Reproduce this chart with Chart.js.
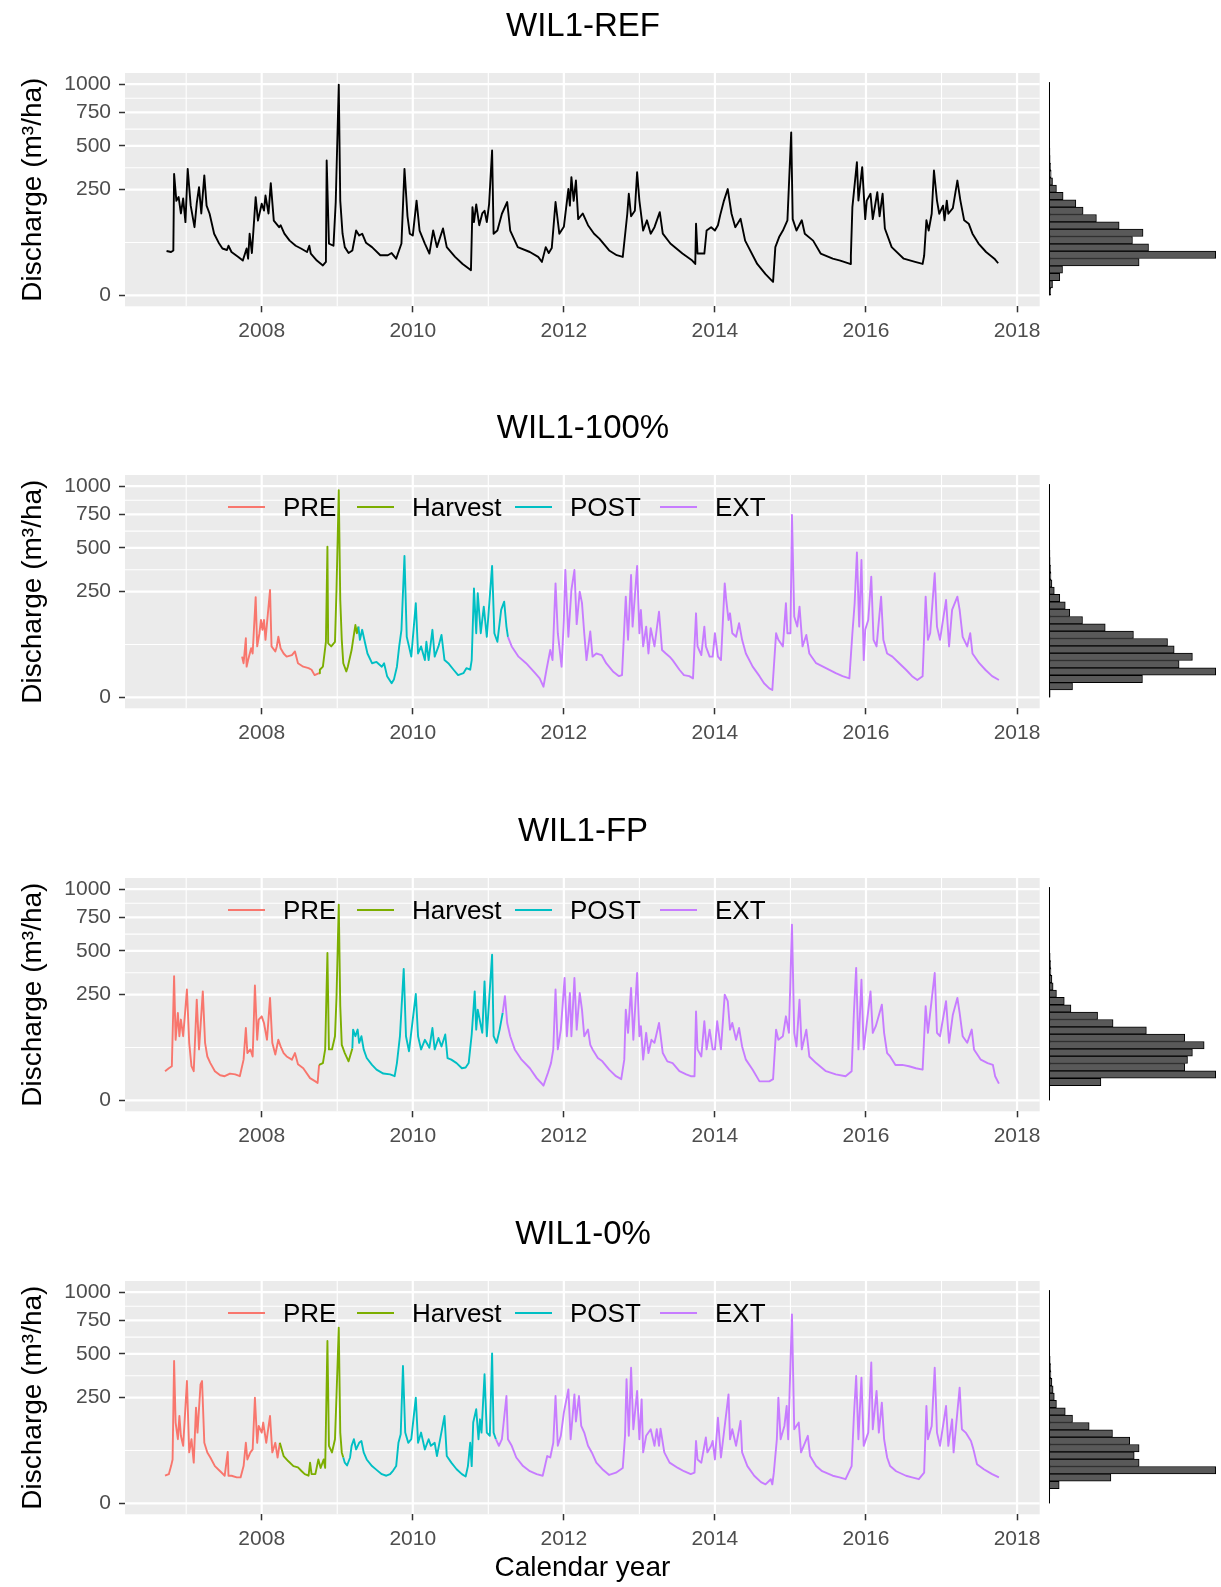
<!DOCTYPE html>
<html>
<head>
<meta charset="utf-8">
<script src="https://cdn.jsdelivr.net/npm/chart.js@4.4.1/dist/chart.umd.min.js"></script>
<style>
  body { margin: 0; background: #fff; font-family: "Liberation Sans", Arial, sans-serif; }
  #page { position: relative; width: 1221px; height: 1587px; overflow: hidden; }
  .panel { position: absolute; left: 0; width: 1221px; }
  .panel canvas { position: absolute; left: 0; top: 0; }
  .ttl { position: absolute; left: 125px; width: 916px; top: 6px; text-align: center;
         font-size: 33px; line-height: 38px; color: #000; }
  .lab { position: absolute; top: 90px; font-size: 26px; line-height: 30px; color: #000; white-space: nowrap; }
  .key { position: absolute; top: 104px; width: 37px; height: 2px; }
</style>
</head>
<body>
<div id="page">
  <div class="panel" style="top:0;height:402px"><canvas id="c0" width="1221" height="402"></canvas><div class="ttl">WIL1-REF</div></div>
  <div class="panel" style="top:402px;height:403px"><canvas id="c1" width="1221" height="403"></canvas><div class="ttl">WIL1-100%</div></div>
  <div class="panel" style="top:805px;height:403px"><canvas id="c2" width="1221" height="403"></canvas><div class="ttl">WIL1-FP</div></div>
  <div class="panel" style="top:1208px;height:379px"><canvas id="c3" width="1221" height="379"></canvas><div class="ttl">WIL1-0%</div></div>
</div>
<script>
// axis breaks (y is drawn on a square-root scale)
var yBreaks = [0, 250, 500, 750, 1000];
var xBreaks = [2008, 2010, 2012, 2014, 2016, 2018];
var periodNames = ['PRE', 'Harvest', 'POST', 'EXT'];
var periodColors = ['#F8766D', '#7CAE00', '#00BFC4', '#C77CFF'];
var binWidth = 1.1; // histogram bin width on the sqrt axis

// WIL1-REF
var refYear = [
  2006.74, 2006.80, 2006.83, 2006.84, 2006.87, 2006.90, 2006.93, 2006.96, 2006.99, 2007.02,
  2007.06, 2007.11, 2007.14, 2007.17, 2007.20, 2007.24, 2007.27, 2007.31, 2007.37, 2007.43,
  2007.48, 2007.54, 2007.56, 2007.60, 2007.69, 2007.75, 2007.80, 2007.82, 2007.84, 2007.87,
  2007.92, 2007.95, 2008.00, 2008.03, 2008.05, 2008.09, 2008.12, 2008.16, 2008.23, 2008.25,
  2008.30, 2008.37, 2008.45, 2008.52, 2008.60, 2008.63, 2008.65, 2008.73, 2008.81, 2008.85,
  2008.86, 2008.89, 2008.95, 2008.98, 2009.02, 2009.04, 2009.07, 2009.10, 2009.15, 2009.20,
  2009.25, 2009.29, 2009.33, 2009.38, 2009.46, 2009.57, 2009.67, 2009.72, 2009.78, 2009.85,
  2009.89, 2009.93, 2009.96, 2010.00, 2010.05, 2010.09, 2010.16, 2010.22, 2010.27, 2010.32,
  2010.40, 2010.45, 2010.56, 2010.66, 2010.74, 2010.77, 2010.79, 2010.81, 2010.84, 2010.88,
  2010.92, 2010.95, 2010.98, 2011.01, 2011.05, 2011.07, 2011.12, 2011.18, 2011.25, 2011.29,
  2011.39, 2011.55, 2011.66, 2011.71, 2011.76, 2011.80, 2011.84, 2011.89, 2011.94, 2012.00,
  2012.06, 2012.08, 2012.10, 2012.13, 2012.16, 2012.19, 2012.25, 2012.32, 2012.40, 2012.47,
  2012.60, 2012.70, 2012.78, 2012.84, 2012.86, 2012.89, 2012.94, 2012.97, 2013.00, 2013.05,
  2013.10, 2013.15, 2013.20, 2013.27, 2013.31, 2013.41, 2013.57, 2013.70, 2013.74, 2013.75,
  2013.77, 2013.86, 2013.89, 2013.95, 2014.00, 2014.04, 2014.07, 2014.12, 2014.17, 2014.22,
  2014.27, 2014.34, 2014.40, 2014.56, 2014.67, 2014.75, 2014.77, 2014.80, 2014.85, 2014.90,
  2014.96, 2015.01, 2015.03, 2015.08, 2015.15, 2015.19, 2015.30, 2015.40, 2015.56, 2015.66,
  2015.79, 2015.80, 2015.82, 2015.88, 2015.90, 2015.95, 2015.99, 2016.01, 2016.06, 2016.09,
  2016.15, 2016.18, 2016.22, 2016.25, 2016.34, 2016.50, 2016.65, 2016.75, 2016.77, 2016.80,
  2016.83, 2016.87, 2016.90, 2016.94, 2016.97, 2017.02, 2017.04, 2017.07, 2017.09, 2017.15,
  2017.21, 2017.25, 2017.30, 2017.36, 2017.41, 2017.49, 2017.59, 2017.70, 2017.75
];
var refQ = [
  44, 42, 45, 330, 200, 216, 150, 210, 120, 358,
  180, 104, 190, 262, 150, 322, 180, 149, 85, 62,
  49, 46, 55, 42, 33, 27, 49, 30, 85, 40,
  216, 125, 188, 161, 223, 150, 282, 125, 104, 110,
  85, 67, 55, 49, 42, 55, 39, 27, 20, 25,
  407, 60, 55, 195, 993, 200, 85, 52, 40, 45,
  94, 80, 85, 62, 52, 36, 36, 40, 30, 60,
  358, 140, 85, 80, 201, 94, 60, 39, 94, 52,
  100, 52, 33, 22, 16, 14, 174, 120, 185, 110,
  150, 160, 120, 185, 470, 85, 94, 149, 195, 94,
  52, 42, 33, 25, 52, 40, 50, 195, 85, 105,
  253, 180, 313, 200, 295, 130, 150, 110, 85, 72,
  45, 36, 33, 149, 231, 140, 160, 339, 201, 94,
  126, 85, 104, 155, 85, 60, 39, 27, 22, 115,
  39, 39, 94, 104, 94, 110, 144, 201, 253, 149,
  104, 131, 67, 22, 10, 5, 4, 52, 76, 94,
  126, 595, 130, 94, 126, 85, 67, 39, 30, 27,
  22, 35, 174, 397, 201, 368, 130, 201, 231, 130,
  238, 140, 231, 100, 52, 30, 25, 22, 35, 126,
  94, 149, 349, 201, 149, 180, 126, 201, 149, 170,
  295, 201, 126, 115, 85, 60, 42, 30, 23
];
var refHist = [8, 17, 54, 68, 459, 850, 507, 425, 479, 357, 241, 173, 136, 71, 37,
               17, 10, 7, 5, 4, 3, 2, 2, 2, 1, 1, 1, 1, 1];

// WIL1-100%
var p100Year = [
  2007.74, 2007.76, 2007.79, 2007.80, 2007.82, 2007.86, 2007.88, 2007.92, 2007.94, 2007.97,
  2007.99, 2008.01, 2008.03, 2008.05, 2008.11, 2008.13, 2008.18, 2008.20, 2008.22, 2008.25,
  2008.29, 2008.33, 2008.40, 2008.44, 2008.48, 2008.55, 2008.62, 2008.66, 2008.70, 2008.76,
  2008.77, 2008.81, 2008.85, 2008.87, 2008.88, 2008.92, 2008.97, 2008.99, 2009.02, 2009.04,
  2009.06, 2009.08, 2009.12, 2009.14, 2009.19, 2009.21, 2009.24, 2009.26, 2009.28, 2009.30,
  2009.33, 2009.37, 2009.40, 2009.46, 2009.52, 2009.59, 2009.62, 2009.66, 2009.72, 2009.75,
  2009.79, 2009.82, 2009.85, 2009.89, 2009.92, 2009.95, 2009.98, 2010.04, 2010.07, 2010.11,
  2010.16, 2010.18, 2010.21, 2010.26, 2010.29, 2010.34, 2010.38, 2010.42, 2010.47, 2010.54,
  2010.60, 2010.67, 2010.71, 2010.76, 2010.78, 2010.81, 2010.84, 2010.86, 2010.90, 2010.94,
  2010.98, 2011.05, 2011.08, 2011.12, 2011.17, 2011.21, 2011.24, 2011.26, 2011.31, 2011.40,
  2011.50, 2011.62, 2011.68, 2011.73, 2011.77, 2011.82, 2011.85, 2011.89, 2011.92, 2011.97,
  2012.00, 2012.02, 2012.06, 2012.10, 2012.14, 2012.17, 2012.21, 2012.24, 2012.27, 2012.30,
  2012.35, 2012.38, 2012.43, 2012.50, 2012.56, 2012.65, 2012.73, 2012.77, 2012.82, 2012.85,
  2012.89, 2012.91, 2012.97, 2013.00, 2013.02, 2013.05, 2013.09, 2013.12, 2013.15, 2013.20,
  2013.26, 2013.30, 2013.35, 2013.40, 2013.44, 2013.53, 2013.59, 2013.66, 2013.71, 2013.75,
  2013.77, 2013.82, 2013.86, 2013.88, 2013.93, 2013.97, 2014.00, 2014.04, 2014.08, 2014.13,
  2014.15, 2014.18, 2014.20, 2014.23, 2014.28, 2014.32, 2014.36, 2014.41, 2014.50, 2014.59,
  2014.65, 2014.72, 2014.76, 2014.81, 2014.84, 2014.90, 2014.94, 2014.96, 2015.00, 2015.02,
  2015.05, 2015.09, 2015.12, 2015.16, 2015.21, 2015.25, 2015.34, 2015.47, 2015.60, 2015.69,
  2015.78, 2015.82, 2015.85, 2015.88, 2015.91, 2015.94, 2015.97, 2015.99, 2016.03, 2016.07,
  2016.10, 2016.14, 2016.20, 2016.23, 2016.28, 2016.35, 2016.44, 2016.53, 2016.61, 2016.68,
  2016.75, 2016.79, 2016.82, 2016.85, 2016.91, 2016.94, 2016.98, 2017.02, 2017.06, 2017.10,
  2017.14, 2017.21, 2017.24, 2017.28, 2017.34, 2017.38, 2017.41, 2017.50, 2017.58, 2017.67,
  2017.76
];
var p100Q = [
  37, 26, 78, 21, 31, 54, 43, 225, 58, 92,
  134, 102, 134, 74, 258, 58, 47, 58, 82, 54,
  43, 37, 40, 47, 26, 21, 19, 17, 11, 13,
  17, 21, 69, 509, 65, 58, 69, 258, 962, 212,
  74, 26, 15, 21, 50, 74, 117, 92, 112, 74,
  102, 65, 43, 26, 28, 21, 26, 10, 4.4, 7,
  21, 58, 102, 448, 82, 58, 37, 198, 43, 58,
  31, 69, 31, 102, 37, 58, 87, 31, 26, 17,
  11, 13, 19, 17, 31, 266, 92, 243, 92, 184,
  82, 387, 92, 69, 171, 205, 112, 82, 58, 37,
  26, 13, 8, 2.5, 17, 50, 31, 291, 92, 21,
  134, 363, 82, 258, 363, 120, 250, 200, 92, 31,
  97, 37, 43, 40, 26, 15, 10, 11, 227, 74,
  335, 112, 387, 92, 171, 58, 112, 43, 107, 58,
  164, 50, 43, 37, 31, 17, 11, 10, 8, 158,
  58, 40, 112, 58, 37, 37, 92, 37, 31, 291,
  212, 134, 158, 92, 82, 123, 74, 43, 21, 10,
  4.4, 1.8, 1.2, 92, 74, 58, 198, 92, 92, 745,
  146, 112, 184, 58, 87, 43, 26, 19, 13, 10,
  8, 92, 198, 470, 112, 423, 31, 102, 134, 326,
  74, 58, 227, 74, 43, 37, 26, 17, 10, 6.7,
  10, 227, 74, 92, 345, 112, 74, 134, 212, 58,
  171, 227, 171, 82, 58, 92, 43, 26, 17, 10,
  6.7
];
var p100Start = [2008.76, 2009.28, 2011.26]; // Harvest, POST, EXT begin
var p100Hist = [5, 119, 476, 850, 663, 731, 638, 604, 430, 286, 170, 105, 82, 54, 26,
                14, 9, 7, 5, 4, 3, 2, 2, 1, 1, 1, 1, 1, 1];

// WIL1-FP
var fpYear = [
  2006.72, 2006.77, 2006.81, 2006.84, 2006.86, 2006.89, 2006.91, 2006.93, 2006.96, 2007.01,
  2007.04, 2007.07, 2007.10, 2007.14, 2007.17, 2007.22, 2007.25, 2007.28, 2007.32, 2007.38,
  2007.45, 2007.51, 2007.58, 2007.65, 2007.71, 2007.76, 2007.79, 2007.81, 2007.85, 2007.88,
  2007.91, 2007.94, 2007.96, 2008.00, 2008.03, 2008.07, 2008.11, 2008.14, 2008.18, 2008.22,
  2008.25, 2008.29, 2008.33, 2008.40, 2008.44, 2008.48, 2008.55, 2008.64, 2008.71, 2008.74,
  2008.76, 2008.81, 2008.84, 2008.87, 2008.89, 2008.93, 2008.97, 2008.99, 2009.02, 2009.04,
  2009.06, 2009.10, 2009.15, 2009.20, 2009.21, 2009.24, 2009.27, 2009.29, 2009.32, 2009.35,
  2009.39, 2009.46, 2009.52, 2009.61, 2009.70, 2009.76, 2009.79, 2009.83, 2009.88, 2009.91,
  2009.95, 2010.04, 2010.07, 2010.11, 2010.16, 2010.22, 2010.26, 2010.29, 2010.34, 2010.38,
  2010.43, 2010.46, 2010.51, 2010.58, 2010.65, 2010.70, 2010.74, 2010.78, 2010.82, 2010.84,
  2010.86, 2010.92, 2010.95, 2010.98, 2011.05, 2011.07, 2011.11, 2011.15, 2011.19, 2011.22,
  2011.25, 2011.29, 2011.35, 2011.44, 2011.55, 2011.64, 2011.70, 2011.73, 2011.79, 2011.83,
  2011.86, 2011.89, 2011.92, 2011.96, 2012.01, 2012.04, 2012.08, 2012.10, 2012.14, 2012.17,
  2012.21, 2012.24, 2012.27, 2012.32, 2012.35, 2012.38, 2012.45, 2012.51, 2012.60, 2012.69,
  2012.76, 2012.80, 2012.82, 2012.85, 2012.89, 2012.92, 2012.97, 2013.00, 2013.02, 2013.05,
  2013.09, 2013.12, 2013.16, 2013.20, 2013.26, 2013.31, 2013.37, 2013.44, 2013.53, 2013.62,
  2013.68, 2013.73, 2013.75, 2013.77, 2013.82, 2013.86, 2013.89, 2013.93, 2013.97, 2014.00,
  2014.03, 2014.08, 2014.13, 2014.17, 2014.20, 2014.23, 2014.28, 2014.32, 2014.36, 2014.41,
  2014.50, 2014.59, 2014.65, 2014.72, 2014.77, 2014.81, 2014.84, 2014.90, 2014.94, 2014.98,
  2015.02, 2015.05, 2015.08, 2015.12, 2015.15, 2015.21, 2015.25, 2015.34, 2015.47, 2015.60,
  2015.73, 2015.81, 2015.84, 2015.87, 2015.90, 2015.94, 2015.97, 2016.06, 2016.09, 2016.13,
  2016.21, 2016.24, 2016.28, 2016.32, 2016.39, 2016.48, 2016.57, 2016.66, 2016.75, 2016.79,
  2016.82, 2016.91, 2016.94, 2016.98, 2017.06, 2017.10, 2017.15, 2017.21, 2017.24, 2017.28,
  2017.34, 2017.40, 2017.43, 2017.52, 2017.61, 2017.68, 2017.71, 2017.76
];
var fpQ = [
  19, 23, 26, 345, 82, 171, 92, 146, 92, 275,
  74, 26, 19, 227, 58, 266, 74, 43, 31, 19,
  14, 13, 16, 15, 13, 37, 117, 50, 58, 43,
  295, 82, 146, 158, 134, 82, 235, 74, 47, 82,
  65, 50, 43, 37, 50, 29, 23, 11, 8, 6.7,
  28, 31, 58, 486, 58, 58, 92, 235, 858, 198,
  69, 50, 34, 60, 112, 92, 112, 74, 92, 58,
  40, 28, 21, 16, 15, 13, 31, 92, 387, 92,
  54, 253, 92, 58, 82, 62, 117, 58, 87, 65,
  97, 40, 37, 31, 23, 24, 31, 97, 266, 112,
  184, 102, 317, 92, 475, 92, 74, 112, 171, 243,
  134, 92, 58, 37, 23, 11, 6.7, 4.8, 17, 31,
  58, 275, 58, 112, 335, 92, 258, 92, 335, 112,
  258, 184, 92, 112, 69, 58, 40, 34, 21, 13,
  10, 37, 184, 102, 283, 82, 363, 92, 123, 37,
  102, 50, 82, 74, 134, 50, 34, 31, 19, 15,
  13, 13, 177, 58, 43, 140, 58, 112, 58, 58,
  140, 58, 250, 220, 112, 134, 82, 117, 65, 37,
  21, 8, 8, 8, 10, 112, 82, 92, 158, 102,
  692, 102, 65, 227, 58, 112, 43, 31, 19, 15,
  13, 19, 171, 393, 58, 326, 58, 266, 102, 123,
  205, 102, 50, 43, 28, 28, 26, 23, 21, 198,
  102, 363, 102, 92, 220, 74, 164, 235, 171, 92,
  74, 112, 58, 37, 31, 28, 13, 6.2
];
var fpStart = [2008.76, 2009.20, 2011.19];
var fpHist = [2, 3, 264, 850, 692, 706, 731, 791, 692, 496, 326, 247, 111, 77, 37,
              20, 14, 9, 7, 5, 3, 2, 2, 2, 1, 1, 1, 1, 1];

// WIL1-0%
var p0Year = [
  2006.72, 2006.77, 2006.80, 2006.82, 2006.84, 2006.86, 2006.89, 2006.91, 2006.93, 2006.96,
  2007.01, 2007.04, 2007.07, 2007.10, 2007.13, 2007.15, 2007.19, 2007.21, 2007.24, 2007.28,
  2007.32, 2007.38, 2007.45, 2007.51, 2007.55, 2007.56, 2007.60, 2007.67, 2007.72, 2007.76,
  2007.79, 2007.81, 2007.85, 2007.88, 2007.91, 2007.94, 2007.96, 2008.00, 2008.02, 2008.06,
  2008.11, 2008.14, 2008.18, 2008.21, 2008.24, 2008.29, 2008.35, 2008.42, 2008.48, 2008.53,
  2008.57, 2008.62, 2008.64, 2008.66, 2008.71, 2008.75, 2008.78, 2008.82, 2008.84, 2008.87,
  2008.89, 2008.93, 2008.97, 2008.99, 2009.02, 2009.04, 2009.06, 2009.08, 2009.10, 2009.13,
  2009.17, 2009.19, 2009.22, 2009.25, 2009.29, 2009.32, 2009.35, 2009.39, 2009.46, 2009.52,
  2009.59, 2009.65, 2009.70, 2009.74, 2009.78, 2009.81, 2009.84, 2009.87, 2009.90, 2009.94,
  2009.98, 2010.04, 2010.07, 2010.11, 2010.16, 2010.21, 2010.24, 2010.29, 2010.32, 2010.42,
  2010.45, 2010.51, 2010.58, 2010.65, 2010.70, 2010.73, 2010.76, 2010.78, 2010.80, 2010.84,
  2010.87, 2010.89, 2010.91, 2010.95, 2010.98, 2011.02, 2011.05, 2011.07, 2011.10, 2011.14,
  2011.18, 2011.24, 2011.26, 2011.31, 2011.37, 2011.46, 2011.55, 2011.64, 2011.72, 2011.75,
  2011.78, 2011.82, 2011.86, 2011.89, 2011.92, 2011.96, 2012.00, 2012.06, 2012.09, 2012.14,
  2012.16, 2012.20, 2012.23, 2012.27, 2012.32, 2012.37, 2012.43, 2012.51, 2012.60, 2012.69,
  2012.78, 2012.81, 2012.83, 2012.86, 2012.89, 2012.92, 2012.97, 2013.00, 2013.03, 2013.05,
  2013.09, 2013.15, 2013.20, 2013.23, 2013.26, 2013.28, 2013.33, 2013.40, 2013.51, 2013.59,
  2013.68, 2013.73, 2013.75, 2013.77, 2013.82, 2013.88, 2013.90, 2013.95, 2013.97, 2014.00,
  2014.04, 2014.08, 2014.18, 2014.20, 2014.23, 2014.28, 2014.34, 2014.36, 2014.43, 2014.52,
  2014.61, 2014.67, 2014.74, 2014.76, 2014.78, 2014.82, 2014.84, 2014.87, 2014.92, 2014.95,
  2014.97, 2015.02, 2015.05, 2015.11, 2015.14, 2015.23, 2015.26, 2015.34, 2015.42, 2015.56,
  2015.65, 2015.73, 2015.77, 2015.81, 2015.84, 2015.87, 2015.90, 2015.94, 2015.97, 2016.03,
  2016.07, 2016.09, 2016.14, 2016.17, 2016.21, 2016.24, 2016.28, 2016.32, 2016.40, 2016.53,
  2016.61, 2016.70, 2016.77, 2016.80, 2016.82, 2016.87, 2016.91, 2016.94, 2016.98, 2017.06,
  2017.09, 2017.14, 2017.16, 2017.24, 2017.27, 2017.32, 2017.39, 2017.42, 2017.47, 2017.56,
  2017.67, 2017.76
];
var p0Q = [
  17, 19, 31, 43, 454, 146, 92, 171, 102, 74,
  335, 58, 92, 37, 205, 112, 317, 335, 82, 58,
  47, 31, 23, 17, 59, 17, 17, 15, 15, 31,
  82, 43, 58, 65, 250, 82, 134, 112, 146, 82,
  171, 58, 82, 47, 82, 50, 40, 31, 29, 23,
  19, 17, 37, 19, 19, 43, 28, 43, 28, 591,
  74, 58, 92, 258, 692, 112, 58, 47, 37, 32,
  47, 74, 92, 65, 82, 87, 58, 43, 31, 25,
  19, 17, 19, 24, 31, 82, 107, 423, 112, 82,
  92, 250, 82, 112, 65, 92, 74, 82, 50, 171,
  50, 37, 26, 19, 16, 31, 82, 31, 146, 198,
  92, 158, 112, 373, 112, 102, 504, 112, 92, 74,
  92, 258, 92, 74, 47, 31, 23, 19, 17, 31,
  50, 47, 82, 258, 74, 102, 184, 291, 92, 266,
  150, 258, 134, 112, 74, 58, 37, 26, 18, 21,
  28, 102, 345, 102, 412, 123, 283, 92, 242, 58,
  102, 123, 74, 123, 74, 125, 58, 37, 28, 23,
  19, 21, 87, 43, 37, 97, 58, 74, 87, 43,
  164, 47, 266, 92, 123, 74, 152, 58, 31, 17,
  10, 8, 13, 8, 21, 92, 250, 92, 134, 212,
  92, 800, 123, 146, 58, 102, 50, 31, 23, 17,
  15, 13, 21, 31, 171, 363, 92, 354, 74, 112,
  444, 123, 283, 112, 227, 92, 47, 31, 23, 17,
  15, 13, 21, 212, 92, 134, 412, 112, 74, 212,
  74, 158, 58, 300, 123, 112, 87, 67, 34, 26,
  19, 15
];
var p0Start = [2008.24, 2009.08, 2011.10];
var p0Hist = [2, 3, 51, 315, 850, 459, 434, 459, 411, 323, 204, 119, 82, 37, 26,
              20, 14, 9, 7, 5, 3, 2, 2, 2, 1, 1, 1, 1, 1];

Chart.defaults.font.family = '"Liberation Sans", Arial, sans-serif';

var panelBackdrop = {
  id: 'panelBackdrop',
  beforeDraw: function(chart) {
    var ctx = chart.ctx, a = chart.chartArea, x = chart.scales.x, y = chart.scales.y;
    ctx.save();
    ctx.fillStyle = '#EBEBEB';
    ctx.fillRect(x.left, a.top, x.right - x.left, a.bottom - a.top);
    ctx.strokeStyle = '#FFFFFF';
    function hl(py) { ctx.beginPath(); ctx.moveTo(x.left, py); ctx.lineTo(x.right, py); ctx.stroke(); }
    function vl(px) { ctx.beginPath(); ctx.moveTo(px, a.top); ctx.lineTo(px, a.bottom); ctx.stroke(); }
    var ys = yBreaks.map(Math.sqrt);
    ctx.lineWidth = 1.1;
    for (var i = 1; i < ys.length; i++) hl(y.getPixelForValue((ys[i - 1] + ys[i]) / 2));
    var step = xBreaks[1] - xBreaks[0];
    for (var j = 0; j < xBreaks.length; j++) {
      var m = xBreaks[j] - step / 2;
      if (m > x.min && m < x.max) vl(x.getPixelForValue(m));
    }
    ctx.lineWidth = 2.2;
    ys.forEach(function(v) { hl(y.getPixelForValue(v)); });
    xBreaks.forEach(function(v) { if (v <= x.max) vl(x.getPixelForValue(v)); });
    ctx.restore();
  },
  afterDatasetsDraw: function(chart) {
    var ctx = chart.ctx, h = chart.scales.h, y = chart.scales.y;
    var n = chart.data.datasets[1].data.length;
    var px = Math.round(h.getPixelForValue(0)) + 0.5;
    ctx.save();
    ctx.strokeStyle = '#000';
    ctx.lineWidth = 1;
    ctx.beginPath();
    ctx.moveTo(px, y.getPixelForValue(0));
    ctx.lineTo(px, y.getPixelForValue(n * binWidth));
    ctx.stroke();
    ctx.restore();
  }
};

function periodIndex(t, starts) {
  var k = 0;
  starts.forEach(function(s) { if (t >= s) k++; });
  return k;
}

function drawPanel(p) {
  var canvas = document.getElementById(p.id);
  var H = canvas.height;
  var histMax = Math.max.apply(null, p.hist);
  var tickFont = {size: 21};
  var line = {
    type: 'line',
    xAxisID: 'x', yAxisID: 'y',
    data: p.yr.map(function(t, i) { return {x: t, y: Math.sqrt(p.q[i])}; }),
    borderColor: '#000', borderWidth: 1.9, pointRadius: 0, tension: 0,
    borderJoinStyle: 'round'
  };
  if (p.starts) {
    line.borderColor = periodColors[0];
    line.segment = { borderColor: function(c) { return periodColors[periodIndex(c.p0.parsed.x, p.starts)]; } };
  }
  var hist = {
    type: 'bar', indexAxis: 'y', xAxisID: 'h', yAxisID: 'y',
    data: p.hist.map(function(n, k) { return {x: n, y: (k + 0.5) * binWidth}; }),
    backgroundColor: '#595959', borderColor: '#000000', borderWidth: 1, borderSkipped: false,
    barPercentage: 1, categoryPercentage: 1, grouped: false
  };
  var chart = new Chart(canvas, {
    type: 'line',
    data: { datasets: [line, hist] },
    plugins: [panelBackdrop],
    options: {
      responsive: false, animation: false, events: [],
      layout: { padding: {top: 73, left: 0, right: 0, bottom: 0} },
      plugins: { legend: {display: false}, tooltip: {enabled: false} },
      scales: {
        x: {
          type: 'linear', position: 'bottom', min: 2006.19, max: 2018.30, offset: false,
          stack: 'bottom', stackWeight: 915.5,
          afterBuildTicks: function(s) { s.ticks = xBreaks.map(function(v) { return {value: v}; }); },
          afterFit: function(s) { s.height = H - 306.3; s.paddingLeft = 0; s.paddingRight = 0; },
          ticks: { autoSkip: false, maxRotation: 0, padding: 6, color: '#4D4D4D', font: tickFont,
                   callback: function(v) { return String(v); } },
          grid: { drawOnChartArea: false, drawTicks: true, tickLength: 6, tickColor: '#333333', tickWidth: 1.5 },
          border: { display: false },
          title: { display: !!p.xTitle, text: 'Calendar year', color: '#000', font: {size: 28},
                   padding: {top: 0, bottom: 2} }
        },
        h: {
          type: 'linear', axis: 'x', position: 'bottom', offset: false,
          stack: 'bottom', stackWeight: 180.5,
          min: -0.057 * histMax, max: 1.026 * histMax,
          ticks: { display: false }, grid: { display: false }, border: { display: false }
        },
        y: {
          type: 'linear', position: 'left', min: -1.65, max: 33.28, offset: false,
          afterBuildTicks: function(s) { s.ticks = yBreaks.map(function(v) { return {value: Math.sqrt(v)}; }); },
          afterFit: function(s) { s.width = 125; s.paddingTop = 0; s.paddingBottom = 0; },
          ticks: { autoSkip: false, padding: 8, color: '#4D4D4D', font: tickFont,
                   callback: function(v) { return String(Math.round(v * v)); } },
          grid: { drawOnChartArea: false, drawTicks: true, tickLength: 6, tickColor: '#333333', tickWidth: 1.5, offset: false },
          border: { display: false },
          title: { display: true, text: 'Discharge (m³/ha)', color: '#000', font: {size: 28},
                   padding: {top: 16, bottom: 0} }
        }
      }
    }
  });
  // make the histogram bars exactly one bin tall on the sqrt axis
  var ys = chart.scales.y;
  chart.data.datasets[1].barThickness = Math.abs(ys.getPixelForValue(binWidth) - ys.getPixelForValue(0));
  chart.update();

  if (p.starts) {
    var box = canvas.parentNode;
    var keyX = [228, 357, 515, 660], labX = [283, 412, 570, 715];
    periodNames.forEach(function(name, i) {
      var k = document.createElement('div');
      k.className = 'key';
      k.style.left = keyX[i] + 'px';
      k.style.background = periodColors[i];
      box.appendChild(k);
      var l = document.createElement('div');
      l.className = 'lab';
      l.style.left = labX[i] + 'px';
      l.textContent = name;
      box.appendChild(l);
    });
  }
}

[
  {id: 'c0', yr: refYear, q: refQ, hist: refHist, starts: null},
  {id: 'c1', yr: p100Year, q: p100Q, hist: p100Hist, starts: p100Start},
  {id: 'c2', yr: fpYear, q: fpQ, hist: fpHist, starts: fpStart},
  {id: 'c3', yr: p0Year, q: p0Q, hist: p0Hist, starts: p0Start, xTitle: true}
].forEach(drawPanel);
</script>
</body>
</html>
